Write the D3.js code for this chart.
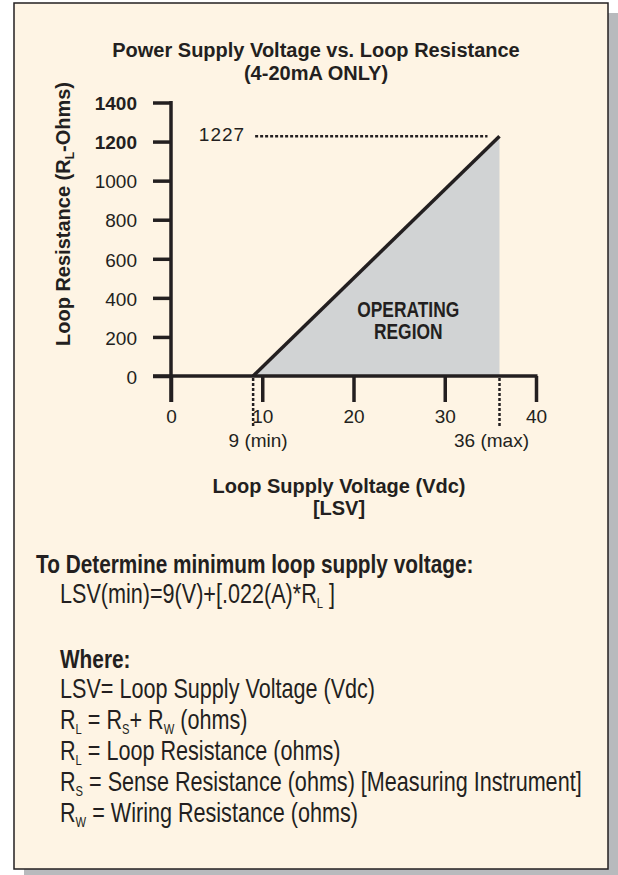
<!DOCTYPE html>
<html lang="en">
<head>
<meta charset="UTF-8">
<title>Power Supply Voltage vs. Loop Resistance</title>
<script src="https://d3js.org/d3.v7.min.js"></script>
<style>
  body { margin: 0; background: #fff; }
  svg { display: block; font-family: "Liberation Sans", Arial, sans-serif; }
  text { fill: #231f20; }
  .tick line { stroke: #231f20; stroke-width: 3.5; }
  .tick text { font-size: 19px; }
</style>
</head>
<body>
<svg width="618" height="875"></svg>
<script>
// chart values
const xTicks = [0, 10, 20, 30, 40];
const yTicks = [0, 200, 400, 600, 800, 1000, 1200, 1400];
const boldYTicks = [1200, 1400];
const region = [{ v: 9, r: 0 }, { v: 36, r: 1227 }];
const limits = [{ v: 9, label: "9 (min)" }, { v: 36, label: "36 (max)" }];
const peakLabel = "1227";
const titleLines = ["Power Supply Voltage vs. Loop Resistance", "(4-20mA ONLY)"];
const xTitleLines = ["Loop Supply Voltage (Vdc)", "[LSV]"];
const regionLines = ["OPERATING", "REGION"];

// note lines: [text, subscript?]
const noteHead = "To Determine minimum loop supply voltage:";
const formula = [["LSV(min)=9(V)+[.022(A)*R"], ["L", 1], [" ]"]];
const whereHead = "Where:";
const whereLines = [
  [["LSV= Loop Supply Voltage (Vdc)"]],
  [["R"], ["L", 1], [" = R"], ["S", 1], ["+ R"], ["W", 1], [" (ohms)"]],
  [["R"], ["L", 1], [" = Loop Resistance (ohms)"]],
  [["R"], ["S", 1], [" = Sense Resistance (ohms) [Measuring Instrument]"]],
  [["R"], ["W", 1], [" = Wiring Resistance (ohms)"]]
];

const svg = d3.select("svg");
const ink = "#231f20";

// panel with drop shadow
svg.append("rect").attr("x", 24).attr("y", 13).attr("width", 594).attr("height", 866)
  .attr("fill", "#b8babd");
svg.append("rect").attr("x", 14).attr("y", 3).attr("width", 594).attr("height", 866)
  .attr("fill", "#fef4e4").attr("stroke", ink).attr("stroke-width", 1.5);

const x = d3.scaleLinear().domain([0, 40]).range([171, 536]);
const y = d3.scaleLinear().domain([0, 1400]).range([376, 102.5]);

// shaded operating region
svg.append("path")
  .datum(region.concat([{ v: region[1].v, r: 0 }]))
  .attr("fill", "#d1d3d4")
  .attr("d", d3.line().x(d => x(d.v)).y(d => y(d.r)));

// axes
const gx = svg.append("g").attr("transform", `translate(0,${y(0)})`)
  .call(d3.axisBottom(x).tickValues(xTicks).tickSize(26).tickPadding(8));
gx.select(".domain").remove();

const gy = svg.append("g").attr("transform", `translate(${x(0)},0)`)
  .call(d3.axisLeft(y).tickValues(yTicks).tickFormat(d3.format("d"))
    .tickSize(18).tickPadding(16));
gy.select(".domain").remove();
gy.selectAll(".tick text").attr("dy", "0.38em")
  .attr("font-weight", d => boldYTicks.includes(d) ? "bold" : "normal");

svg.append("line")
  .attr("x1", x(0)).attr("x2", x(0))
  .attr("y1", y(1400) - 1.5).attr("y2", y(0) + 26)
  .attr("stroke", ink).attr("stroke-width", 3.5);
svg.append("line")
  .attr("x1", x(0) - 18).attr("x2", x(40) + 1.5)
  .attr("y1", y(0)).attr("y2", y(0))
  .attr("stroke", ink).attr("stroke-width", 3.5);

// boundary line
svg.append("path")
  .datum(region)
  .attr("fill", "none").attr("stroke", ink).attr("stroke-width", 3.5)
  .attr("d", d3.line().x(d => x(d.v)).y(d => y(d.r)));

// dotted guides
const peak = region[1];
svg.append("line")
  .attr("x1", x(9) + 2).attr("x2", x(peak.v) - 12)
  .attr("y1", y(peak.r)).attr("y2", y(peak.r))
  .attr("stroke", ink).attr("stroke-width", 2.5).attr("stroke-dasharray", "3,2");
svg.append("text").attr("x", x(9) - 8).attr("y", y(peak.r) + 5)
  .attr("text-anchor", "end").attr("font-size", 19).attr("letter-spacing", 1)
  .text(peakLabel);

svg.selectAll(".limit").data(limits).join("line")
  .attr("class", "limit")
  .attr("x1", d => x(d.v)).attr("x2", d => x(d.v))
  .attr("y1", y(0) + 2).attr("y2", y(0) + 51)
  .attr("stroke", ink).attr("stroke-width", 2.5).attr("stroke-dasharray", "3,2");
svg.selectAll(".limit-label").data(limits).join("text")
  .attr("class", "limit-label")
  .attr("x", (d, i) => x(d.v) + (i ? -8 : 5)).attr("y", y(0) + 71)
  .attr("text-anchor", "middle").attr("font-size", 19)
  .text(d => d.label);

// titles
svg.selectAll(".title").data(titleLines).join("text")
  .attr("class", "title")
  .attr("x", 316).attr("y", (d, i) => 57 + i * 23)
  .attr("text-anchor", "middle").attr("font-size", 20).attr("font-weight", "bold")
  .text(d => d);

svg.selectAll(".xtitle").data(xTitleLines).join("text")
  .attr("class", "xtitle")
  .attr("x", 339).attr("y", (d, i) => 493 + i * 22)
  .attr("text-anchor", "middle").attr("font-size", 20).attr("font-weight", "bold")
  .text(d => d);

const yt = svg.append("text")
  .attr("transform", "translate(70,214) rotate(-90)")
  .attr("text-anchor", "middle").attr("font-size", 20).attr("font-weight", "bold");
yt.append("tspan").text("Loop Resistance (R");
yt.append("tspan").attr("font-size", 12).attr("dy", 4).text("L");
yt.append("tspan").attr("dy", -4).text("-Ohms)");

// region label, condensed
regionLines.forEach((t, i) => {
  svg.append("g")
    .attr("transform", `translate(${x(26)},${y(300) + i * 22}) scale(0.79,1)`)
    .append("text").attr("text-anchor", "middle")
    .attr("font-size", 22).attr("font-weight", "bold").text(t);
});

// notes block, condensed
function noteLine(parts, px, py, bold) {
  const t = svg.append("g")
    .attr("transform", `translate(${px},${py}) scale(0.8,1)`)
    .append("text").attr("font-size", bold ? 26 : 27)
    .attr("font-weight", bold ? "bold" : "normal");
  let shifted = false;
  parts.forEach(([s, sub]) => {
    const sp = t.append("tspan").text(s);
    if (sub) { sp.attr("font-size", 14).attr("dy", 5); shifted = true; }
    else if (shifted) { sp.attr("dy", -5); shifted = false; }
  });
}

noteLine([[noteHead]], 36, 573, true);
noteLine(formula, 60, 603, false);
noteLine([[whereHead]], 60, 668, true);
whereLines.forEach((parts, i) => noteLine(parts, 60, 698 + i * 31, false));
</script>
</body>
</html>
